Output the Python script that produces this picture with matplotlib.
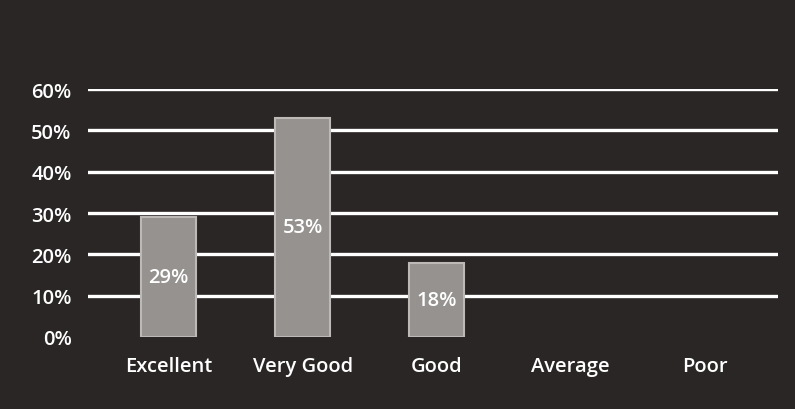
import matplotlib
matplotlib.use("Agg")
import matplotlib.pyplot as plt
from matplotlib.ticker import FuncFormatter

categories = ["Excellent", "Very Good", "Good", "Average", "Poor"]
values = [0.29, 0.53, 0.18, None, None]
y_ticks = [0.0, 0.1, 0.2, 0.3, 0.4, 0.5, 0.6]

bg = "#2a2625"
plt.rcParams['font.family'] = ['Open Sans', 'DejaVu Sans']
fig = plt.figure(figsize=(7.95, 4.1), dpi=100, facecolor=bg)
ax = fig.add_axes([0.111, 0.176, 0.868, 0.604], facecolor=bg)

ax.set_ylim(0, 0.6)
ax.set_xlim(-0.6, 4.55)
ax.set_yticks(y_ticks)
ax.yaxis.set_major_formatter(FuncFormatter(lambda v, p: f"{v*100:.0f}%"))
for y in y_ticks[1:]:
    ax.axhline(y, color="white", lw=2.4, zorder=1)

xs = list(range(len(categories)))
for x, v in zip(xs, values):
    if v is None:
        continue
    ax.bar(x, v, width=0.41, color="#969290", edgecolor="#bdb9b6", linewidth=1.5, zorder=2)
    ax.text(x, v / 2, f"{v*100:.0f}%", ha="center", va="center", color="white",
            fontsize=14.5, fontweight="semibold", family=["Open Sans", "DejaVu Sans"], zorder=3)

ax.set_xticks(xs)
ax.set_xticklabels(categories)
for s in ax.spines.values():
    s.set_visible(False)
ax.tick_params(axis="both", length=0, colors="white")
for lab in ax.get_xticklabels():
    lab.set_fontsize(14.5)
    lab.set_fontweight("semibold")
    lab.set_family(["Open Sans", "DejaVu Sans"])
for lab in ax.get_yticklabels():
    lab.set_fontsize(14.5)
    lab.set_fontweight("semibold")
    lab.set_family(["Open Sans", "DejaVu Sans"])
ax.tick_params(axis="x", pad=14)
ax.tick_params(axis="y", pad=12)

fig.savefig("out.png", dpi=100, facecolor=bg)
